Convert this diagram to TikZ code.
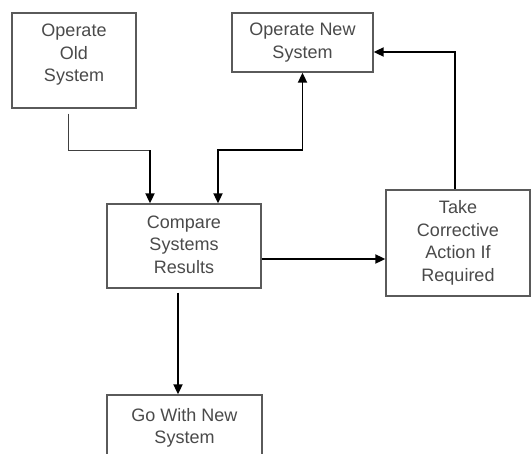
\documentclass[tikz,border=0pt]{standalone}
\usepackage{fontspec}
\setmainfont{Liberation Sans}
\usetikzlibrary{arrows.meta}
\definecolor{boxline}{HTML}{5A5A5A}
\definecolor{boxtext}{HTML}{4A4A4A}
\newcommand{\lines}[1]{\begin{tabular}{@{}c@{}}#1\end{tabular}}
\begin{document}
\begin{tikzpicture}[x=1pt,y=-1pt,
  stepbox/.style={draw=boxline,line width=1.3pt,fill=white,inner sep=0pt,
    text=boxtext,font=\fontsize{18}{22.5}\selectfont},
  flow/.style={line width=1.8pt,-{Triangle[length=10pt,width=9pt]}},
  thinflow/.style={line width=1pt,draw=black!75}]
\useasboundingbox (0,0) rectangle (532,453);
\clip (0,0) rectangle (532,453);

% process boxes
\node[stepbox,minimum width=124pt,minimum height=95pt] (old) at (74,60.5)
  {\raisebox{6pt}[\height][\depth]{\lines{Operate\\Old\\System}}};
\node[stepbox,minimum width=141pt,minimum height=59pt] (new) at (302.5,42.5)
  {\lines{Operate New\\System}};
\node[stepbox,minimum width=154pt,minimum height=84pt] (cmp) at (184,246)
  {\lines{Compare\\Systems\\Results}};
\node[stepbox,minimum width=144pt,minimum height=106pt] (take) at (458,243)
  {\lines{Take\\Corrective\\Action If\\Required}};
\node[stepbox,minimum width=155pt,minimum height=66pt] (go) at (184.5,428)
  {\lines{Go With New\\System}};

% junction level shared by the two inputs of the comparison
\coordinate (lvl) at (184,150);

% old system output feeds the comparison
\draw[thinflow] ([xshift=-6pt,yshift=-5pt]old.south) |- ([xshift=-34pt]cmp.north |- lvl);
\draw[flow] ([xshift=-34pt]cmp.north |- lvl) -- ([xshift=-34pt]cmp.north);

% two-way link between the new system and the comparison
\draw[line width=1.8pt,{Triangle[length=10pt,width=9pt]}-{Triangle[length=10pt,width=9pt]}]
  ([xshift=34pt]cmp.north) -- ([xshift=34pt]cmp.north |- lvl) -| (new.south);

% comparison to corrective action
\draw[flow] ([yshift=-13pt]cmp.east) -- ([yshift=-13pt]cmp.east -| take.west);

% corrective action loops back to the new system
\draw[flow] ([xshift=-3pt]take.north) |- ([yshift=-9.5pt]new.east);

% comparison leads to adopting the new system
\draw[flow] ([xshift=-6pt,yshift=-4pt]cmp.south) -- ([xshift=-6pt]cmp.south |- go.north);
\end{tikzpicture}
\end{document}
